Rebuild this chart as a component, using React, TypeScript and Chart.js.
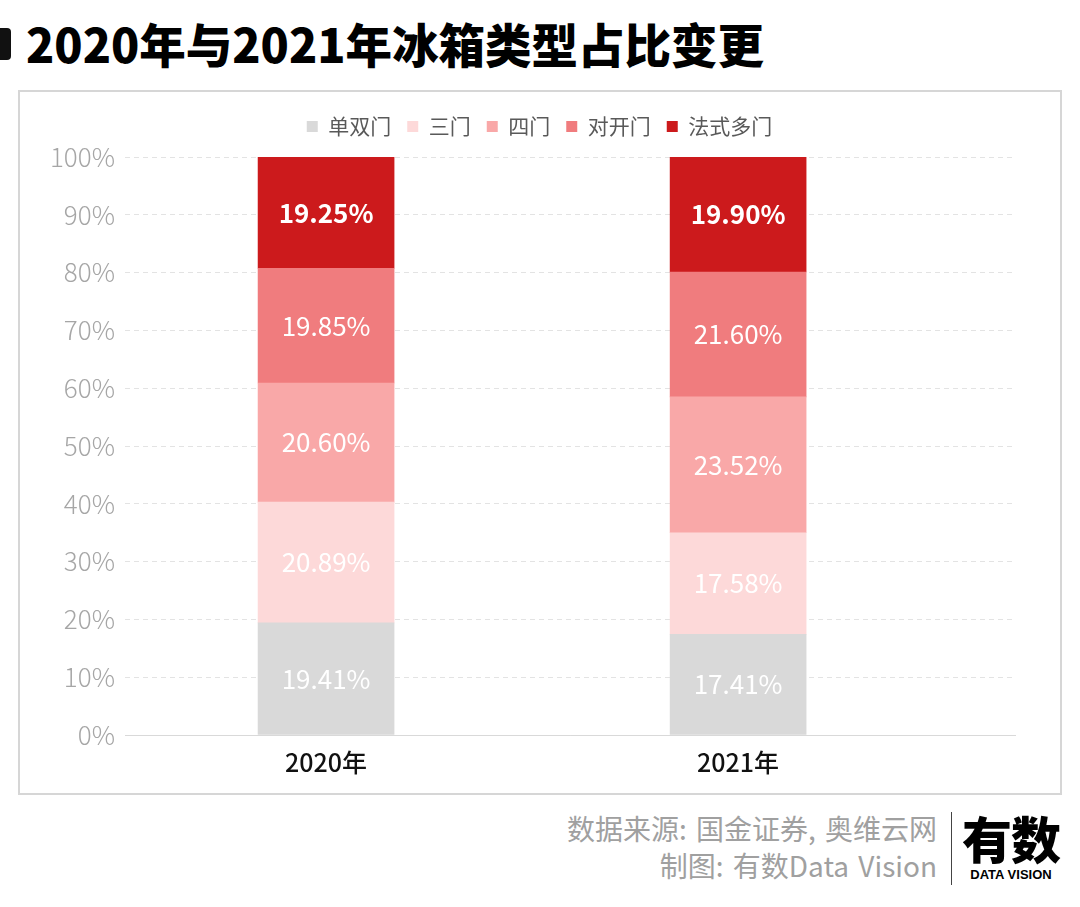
import { useEffect, useRef } from 'react';
import { Chart, registerables } from 'chart.js';

Chart.register(...registerables);

const years = ['2020年', '2021年'];
const seriesNames = ['单双门', '三门', '四门', '对开门', '法式多门'];
const single = [19.41, 17.41];
const triple = [20.89, 17.58];
const quad = [20.6, 23.52];
const sideBySide = [19.85, 21.6];
const french = [19.25, 19.9];
const seriesColors = ['#d9d9d9', '#fdd9d9', '#f9a8a8', '#f07c7e', '#cc1a1c'];
const yTicks = [0, 10, 20, 30, 40, 50, 60, 70, 80, 90, 100];

const FONT = '"Noto Sans CJK SC", "Noto Sans", sans-serif';

const barLabels = {
  id: 'barLabels',
  afterDatasetsDraw(chart: Chart) {
    const ctx = chart.ctx;
    chart.data.datasets.forEach((ds, i) => {
      const meta = chart.getDatasetMeta(i);
      meta.data.forEach((bar, j) => {
        const p = bar.getProps(['x', 'y', 'base'], true) as any;
        const point = ds.data[j] as any;
        ctx.save();
        ctx.fillStyle = '#ffffff';
        ctx.font = `${i === 4 ? '700' : '400'} 26px ${FONT}`;
        ctx.textAlign = 'center';
        ctx.textBaseline = 'middle';
        ctx.fillText(point.y.toFixed(2) + '%', p.x, (p.y + p.base) / 2);
        ctx.restore();
      });
    });
  },
};

// a bit more room under the legend, and keep it centred on the whole box
const legendTweak = {
  id: 'legendTweak',
  beforeUpdate(chart: any) {
    const legend = chart.legend;
    if (!legend || legend._tweaked) return;
    const fit = legend.fit;
    legend.fit = function () {
      fit.call(this);
      this.height += 10;
    };
    legend._tweaked = true;
  },
  afterLayout(chart: any) {
    const legend = chart.legend;
    if (!legend) return;
    legend.left += 22;
    legend.right += 22;
  },
};

const StackedChart = () => {
  const canvasRef = useRef<HTMLCanvasElement>(null);
  const chartRef = useRef<Chart | null>(null);

  useEffect(() => {
    const canvas = canvasRef.current;
    if (!canvas) return;
    if (chartRef.current) chartRef.current.destroy();

    const all = [single, triple, quad, sideBySide, french];
    chartRef.current = new Chart(canvas, {
      type: 'bar',
      data: {
        datasets: all.map((vals, i) => ({
          label: seriesNames[i],
          data: vals.map((v, j) => ({ x: j, y: v })),
          backgroundColor: seriesColors[i],
          borderWidth: 0,
          barThickness: 136,
        })),
      },
      options: {
        animation: false,
        responsive: true,
        maintainAspectRatio: false,
        layout: { padding: { top: 8, right: 45, left: 0, bottom: 0 } },
        plugins: {
          legend: {
            position: 'top',
            labels: {
              boxWidth: 11,
              boxHeight: 11,
              padding: 16,
              color: '#595959',
              font: { size: 21, family: FONT },
            },
          },
          tooltip: { enabled: false },
        },
        scales: {
          x: {
            type: 'linear',
            stacked: true,
            offset: false,
            min: -0.488,
            max: 1.672,
            afterBuildTicks: (scale: any) => {
              scale.ticks = years.map((_, i) => ({ value: i }));
            },
            afterFit: (scale: any) => {
              scale.height = 58;
            },
            ticks: {
              color: '#111',
              padding: 4,
              font: { size: 25, family: FONT, weight: 500 },
              callback: (v: any) => years[v] ?? '',
            },
            grid: { display: false },
            border: { display: true, color: '#d9d9d9', width: 1 },
          },
          y: {
            stacked: true,
            min: 0,
            max: 100,
            afterBuildTicks: (scale: any) => {
              scale.ticks = yTicks.map((v) => ({ value: v }));
            },
            afterFit: (scale: any) => {
              scale.width = 105;
            },
            ticks: {
              color: '#a6a6a6',
              padding: 10,
              font: { size: 26, family: FONT, weight: 300 },
              callback: (v: any) => v + '%',
            },
            grid: { color: '#e3e3e3', drawTicks: false, lineWidth: 1 },
            border: { display: false, dash: [5, 4] },
          },
        },
      },
      plugins: [barLabels, legendTweak],
    });

    return () => {
      if (chartRef.current) {
        chartRef.current.destroy();
        chartRef.current = null;
      }
    };
  }, []);

  return (
    <div style={{ position: 'relative', width: 1040, height: 701 }}>
      <canvas ref={canvasRef}></canvas>
    </div>
  );
};

const App = () => {
  useEffect(() => {
    document.body.style.margin = '0';
  }, []);

  return (
    <div style={{ position: 'relative', width: 1080, height: 907, background: '#fff', fontFamily: FONT, overflow: 'hidden' }}>
      <div style={{ position: 'absolute', left: 0, top: 28, width: 11, height: 32, background: '#111', borderRadius: '0 4px 4px 0' }} />
      <div style={{ position: 'absolute', left: 26, top: 13, fontSize: 46.5, fontWeight: 900, color: '#000', lineHeight: '60px', whiteSpace: 'nowrap' }}>
        2020年与2021年冰箱类型占比变更
      </div>
      <div style={{ position: 'absolute', left: 18, top: 90, width: 1044, height: 705, border: '2px solid #d6d6d6', boxSizing: 'border-box' }}>
        <StackedChart />
      </div>
      <div style={{ position: 'absolute', right: 1080 - 937, top: 810, textAlign: 'right', color: '#a0a0a0', fontSize: 28, lineHeight: '37px', whiteSpace: 'nowrap', wordSpacing: 3 }}>
        <div>数据来源: 国金证券, 奥维云网</div>
        <div>制图: 有数Data Vision</div>
      </div>
      <div style={{ position: 'absolute', left: 951, top: 812, width: 1, height: 73, background: '#444' }} />
      <div style={{ position: 'absolute', left: 961, top: 806, width: 100, textAlign: 'center', color: '#000' }}>
        <div style={{ fontSize: 50, fontWeight: 900, lineHeight: '62px', letterSpacing: -1 }}>有数</div>
        <div style={{ fontSize: 13, fontWeight: 900, lineHeight: '14px', fontFamily: '"Liberation Sans", Arial, sans-serif' }}>DATA VISION</div>
      </div>
    </div>
  );
};

export default App;
